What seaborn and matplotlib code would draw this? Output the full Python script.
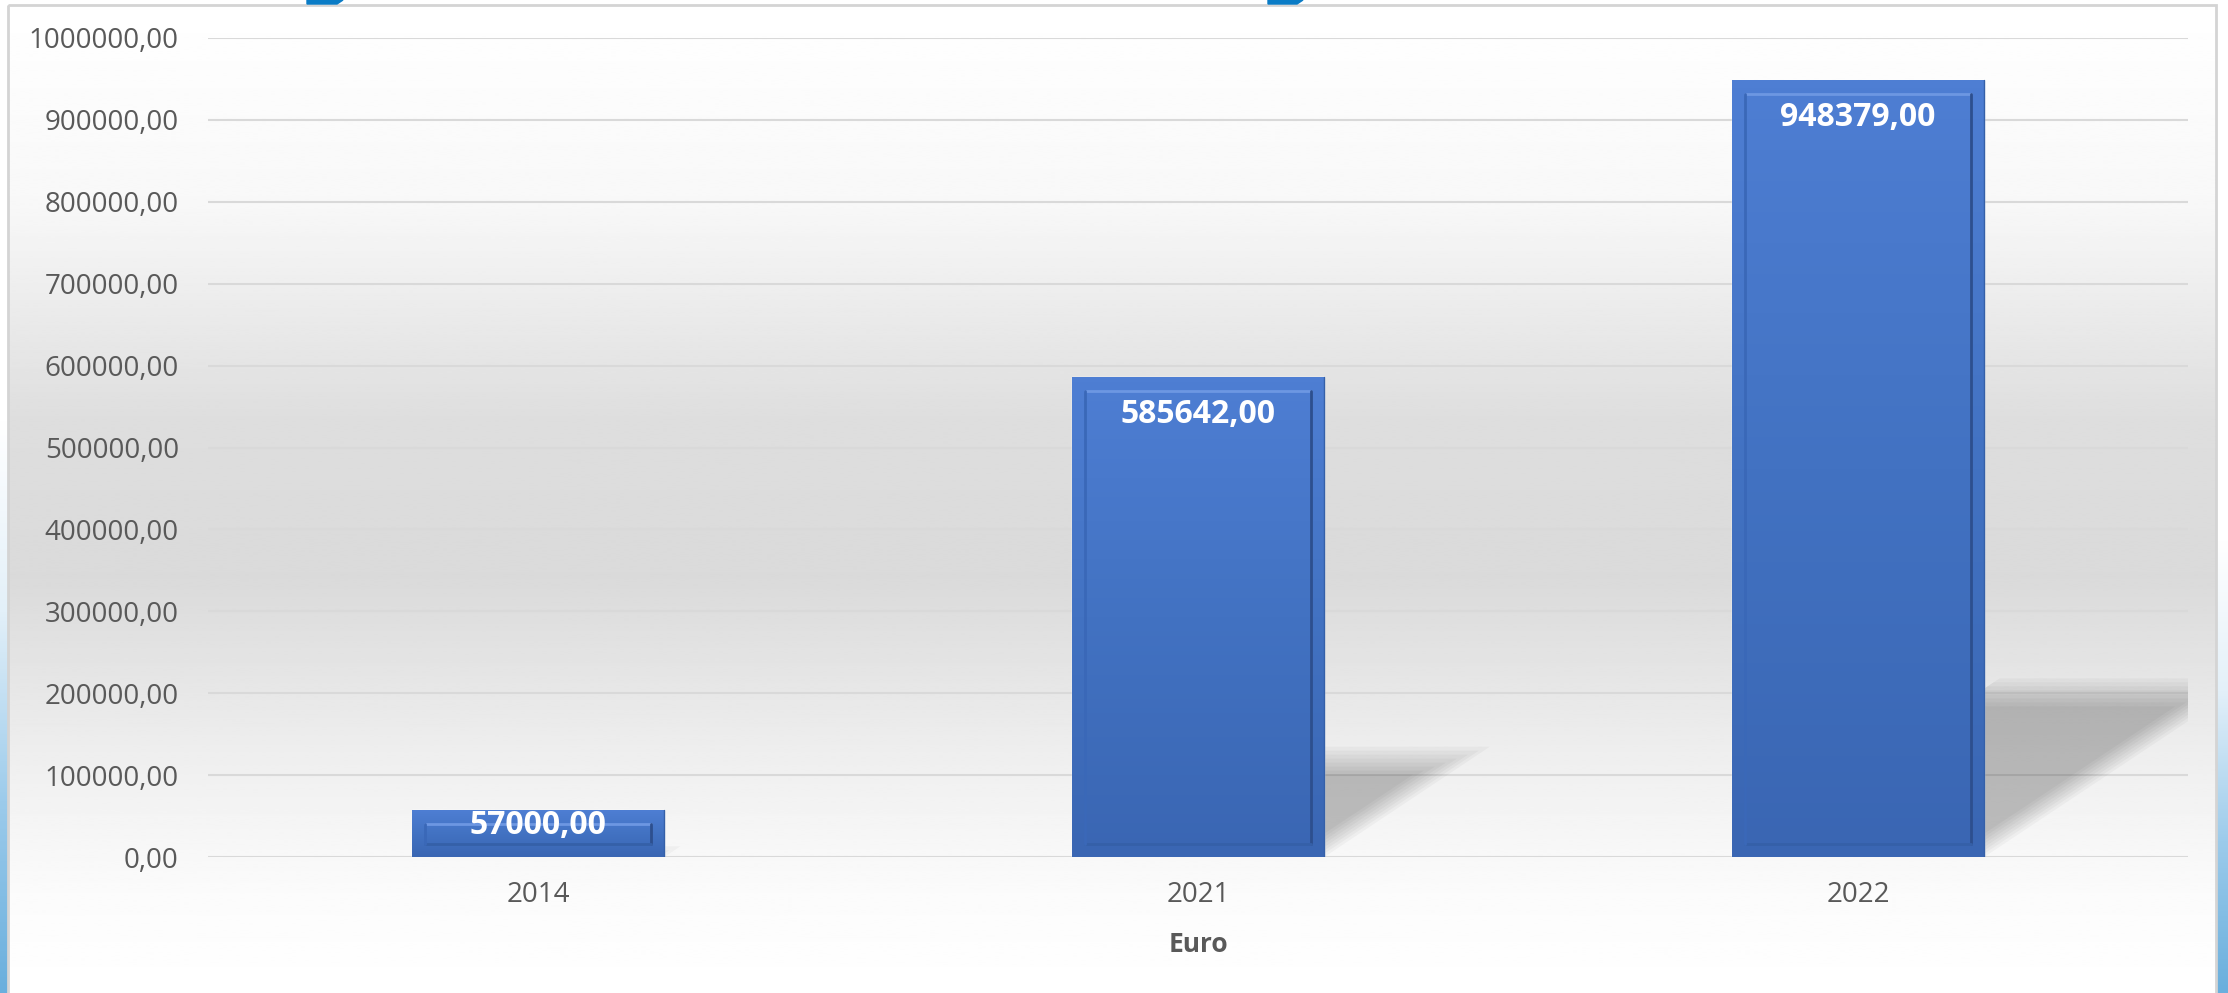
import numpy as np
import pandas as pd
import matplotlib
matplotlib.use("Agg")
import matplotlib.pyplot as plt
import seaborn as sns
from matplotlib.patches import Polygon, Rectangle
from matplotlib.colors import LinearSegmentedColormap

# data
years = ["2014", "2021", "2022"]
values = [57000.00, 585642.00, 948379.00]
y_ticks = [0, 100000, 200000, 300000, 400000, 500000, 600000, 700000, 800000, 900000, 1000000]
x_title = "Euro"

df = pd.DataFrame({"Year": years, "Euro": values})

W, H = 2228, 993
sns.set_theme(style="white")
plt.rcParams["font.family"] = ["Open Sans", "DejaVu Sans"]
text_grey = "#595959"

fig = plt.figure(figsize=(W / 100, H / 100), dpi=100)

# background: chart area gradient + frame (pixel coords)
bg = fig.add_axes([0, 0, 1, 1], zorder=-5)
bg.set_xlim(0, W)
bg.set_ylim(H, 0)
bg.axis("off")
stops = [(0.0, 1.0), (0.2, 0.972), (0.42, 0.87), (0.58, 0.855), (0.76, 0.935), (0.9, 0.985), (1.0, 1.0)]
yy = np.linspace(0, 1, 400)
shade = np.interp(yy, [s[0] for s in stops], [s[1] for s in stops])
bg.imshow(np.repeat(shade[:, None], 2, axis=1), cmap="gray", vmin=0, vmax=1,
          extent=[8, 2216, H, 5], aspect="auto", interpolation="bilinear")

blue_cmap = LinearSegmentedColormap.from_list("edge", ["#ffffff", "#e3f0f9", "#9ccbeb", "#6aafdd"])
strip = np.linspace(0, 1, 200)[:, None]
bg.imshow(strip, cmap=blue_cmap, extent=[0, 8, H, 420], aspect="auto")
bg.imshow(strip, cmap=blue_cmap, extent=[2217, W, H, 540], aspect="auto")
bg.add_patch(Rectangle((8, 5), 2208, H, fill=False, edgecolor="#d4d4d4", lw=2))
bg.add_patch(Polygon([(307, 0), (343, 0), (337, 4), (307, 4)], color="#0a7cc6"))
bg.add_patch(Polygon([(1268, 0), (1303, 0), (1297, 4), (1268, 4)], color="#0a7cc6"))

# main plot area
left, right, top, base = 208, 2188, 38, 857
ax = fig.add_axes([left / W, (H - base) / H, (right - left) / W, (base - top) / H])
ax.set_facecolor("none")

sns.barplot(data=df, x="Year", y="Euro", color="#4472c4", width=0.383,
            saturation=1, ax=ax, zorder=3)
ax.set_xlim(-0.5, 2.5)
ax.set_ylim(0, 1000000)

px_x = (right - left) / 3.0        # pixels per category
px_y = (base - top) / 1000000.0    # pixels per euro

ax.set_yticks(y_ticks)
ax.set_yticklabels([f"{v:.2f}".replace(".", ",") for v in y_ticks])
ax.yaxis.grid(True, color="#d9d9d9", lw=1.5, zorder=0)
ax.set_axisbelow(True)
ax.tick_params(axis="y", length=0, pad=21, labelsize=20, labelcolor=text_grey)
ax.tick_params(axis="x", length=0, pad=17, labelsize=20, labelcolor=text_grey)
ax.set_xlabel(x_title, fontsize=19, fontweight="bold", color=text_grey, labelpad=16)
ax.set_ylabel("")
sns.despine(ax=ax, left=True, bottom=True, top=True, right=True)

bar_grad = LinearSegmentedColormap.from_list("bar", ["#3a66b3", "#4272c2", "#4e7ed3"])
for patch, val in zip(ax.patches, values):
    x0 = patch.get_x()
    w = patch.get_width()
    h = patch.get_height()
    # soft perspective shadow to the right
    sh = 0.23 * h
    dx = 1.5 * sh * px_y / px_x
    for i in range(8):
        s_top = sh - i * 4 / px_y
        s_in = i * 5 / px_x
        if s_top <= 0:
            continue
        d = dx * s_top / sh
        poly = Polygon([(x0, 0), (x0 + w - s_in, 0),
                        (x0 + w + d - s_in, s_top), (x0 + d, s_top)],
                       closed=True, facecolor="black", alpha=0.03, lw=0, zorder=2)
        ax.add_patch(poly)
    # gradient fill clipped to the bar
    im = ax.imshow(np.linspace(0, 1, 100)[:, None], cmap=bar_grad, origin="lower",
                   extent=[x0, x0 + w, 0, h], aspect="auto", zorder=3.5)
    im.set_clip_path(patch)
    # bevel
    ix = 13.5 / px_x
    iy = 13.5 / px_y
    ax.plot([x0 + ix, x0 + w - ix], [h - iy, h - iy], color="#6d97e2", lw=2, zorder=4)
    ax.plot([x0 + w - ix, x0 + w - ix], [h - iy, iy], color="#2d4f8e", lw=2, zorder=4)
    ax.plot([x0 + ix, x0 + w - ix], [iy, iy], color="#3560a8", lw=2, zorder=4)
    ax.plot([x0 + ix, x0 + ix], [iy, h - iy], color="#3a68b8", lw=2, zorder=4)
    ax.plot([x0 + w, x0 + w], [0, h], color="#3560a8", lw=1, zorder=4)
    # value label inside the top of the bar
    off = min(37, 0.32 * h * px_y)
    ax.annotate(f"{val:.2f}".replace(".", ","), xy=(x0 + w / 2, h),
                xytext=(0, -off * 0.72), textcoords="offset points",
                ha="center", va="center", fontsize=23, fontweight="bold",
                color="white", zorder=5)

fig.savefig("out.png", dpi=100)
